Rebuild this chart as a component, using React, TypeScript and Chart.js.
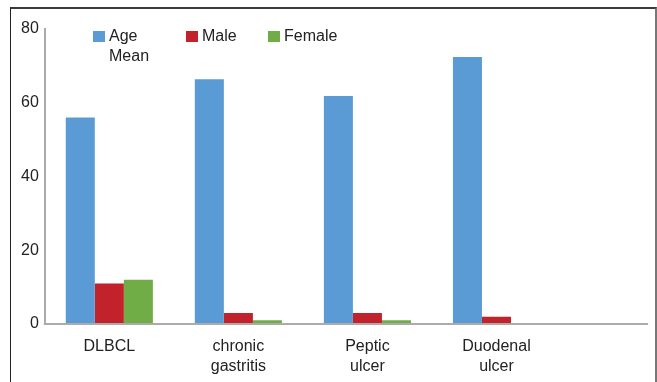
import { useEffect, useRef } from 'react';
import { Chart, registerables } from 'chart.js';

Chart.register(...registerables);

const categories: string[][] = [['DLBCL'], ['chronic', 'gastritis'], ['Peptic', 'ulcer'], ['Duodenal', 'ulcer']];
const ageMean = [56, 66.4, 61.8, 72.4];
const male = [11, 3, 3, 2];
const female = [12, 1, 1, 0];
const yTicks = [0, 20, 40, 60, 80];
const seriesNames: string[][] = [['Age', 'Mean'], ['Male'], ['Female']];
const seriesColors = ['#5B9BD5', '#C1222B', '#70AD47'];

const FONT = '"Liberation Sans", Arial, sans-serif';
const CAT_PCT = 0.675;

const axisExtend = {
  id: 'axisExtend',
  afterDatasetsDraw(chart: any) {
    const { ctx, chartArea, scales } = chart;
    const xs = scales.x;
    const ys = scales.y;
    const step = (xs.right - xs.left) / xs.ticks.length;
    const y0 = ys.getPixelForValue(0);
    ctx.save();
    ctx.strokeStyle = '#ababab';
    ctx.lineWidth = 2;
    ctx.beginPath();
    ctx.moveTo(chartArea.left - 1, y0);
    ctx.lineTo(chartArea.right + step * CAT_PCT, y0);
    ctx.stroke();
    ctx.restore();
  },
};

export default function App() {
  const ref = useRef<HTMLCanvasElement | null>(null);

  useEffect(() => {
    if (!ref.current) return;
    const data = [ageMean, male, female];
    const chart = new Chart(ref.current, {
      type: 'bar',
      data: {
        labels: categories,
        datasets: data.map((d, i) => ({
          label: seriesNames[i].join(' '),
          data: d,
          backgroundColor: seriesColors[i],
          borderWidth: 0,
          barPercentage: 1,
          categoryPercentage: CAT_PCT,
        })),
      },
      options: {
        animation: false,
        responsive: false,
        maintainAspectRatio: false,
        layout: { padding: { left: 15, right: 96, top: 29, bottom: -8 } },
        plugins: { legend: { display: false }, tooltip: { enabled: false } },
        scales: {
          x: {
            grid: { display: false, drawTicks: false },
            border: { display: false },
            ticks: {
              color: '#222',
              padding: 13,
              maxRotation: 0,
              autoSkip: false,
              font: { family: FONT, size: 16, lineHeight: 1.25 },
            },
          },
          y: {
            min: 0,
            max: 80,
            grid: { display: false, drawTicks: false },
            border: { display: true, color: '#ababab', width: 2 },
            afterBuildTicks: (scale: any) => {
              scale.ticks = yTicks.map((v) => ({ value: v }));
            },
            ticks: {
              color: '#222',
              padding: 6,
              font: { family: FONT, size: 16 },
            },
          },
        },
      },
      plugins: [axisExtend],
    });
    return () => chart.destroy();
  }, []);

  const legendItems = [
    { left: 93, textLeft: 109 },
    { left: 186, textLeft: 202 },
    { left: 268, textLeft: 284 },
  ];

  return (
    <div style={{ position: 'fixed', left: 0, top: 0, width: 657, height: 382, overflow: 'hidden', background: '#fff' }}>
      <canvas ref={ref} width={657} height={382} style={{ position: 'absolute', left: 0, top: 0, width: 657, height: 382 }} />
      <div
        style={{
          position: 'absolute',
          left: 10,
          top: 7,
          width: 647,
          height: 420,
          borderTop: '2px solid #3a3a3a',
          borderLeft: '1.5px solid #222',
          borderRight: '2px solid #777',
          boxSizing: 'border-box',
          pointerEvents: 'none',
        }}
      />
      {legendItems.map((it, i) => (
        <div key={i}>
          <div
            style={{
              position: 'absolute',
              left: it.left,
              top: 31,
              width: 12,
              height: 11,
              background: seriesColors[i],
            }}
          />
          <div
            style={{
              position: 'absolute',
              left: it.textLeft,
              top: 26,
              fontFamily: FONT,
              fontSize: 16,
              lineHeight: '20px',
              color: '#222',
              whiteSpace: 'nowrap',
            }}
          >
            {seriesNames[i].map((t, j) => (
              <div key={j}>{t}</div>
            ))}
          </div>
        </div>
      ))}
    </div>
  );
}
